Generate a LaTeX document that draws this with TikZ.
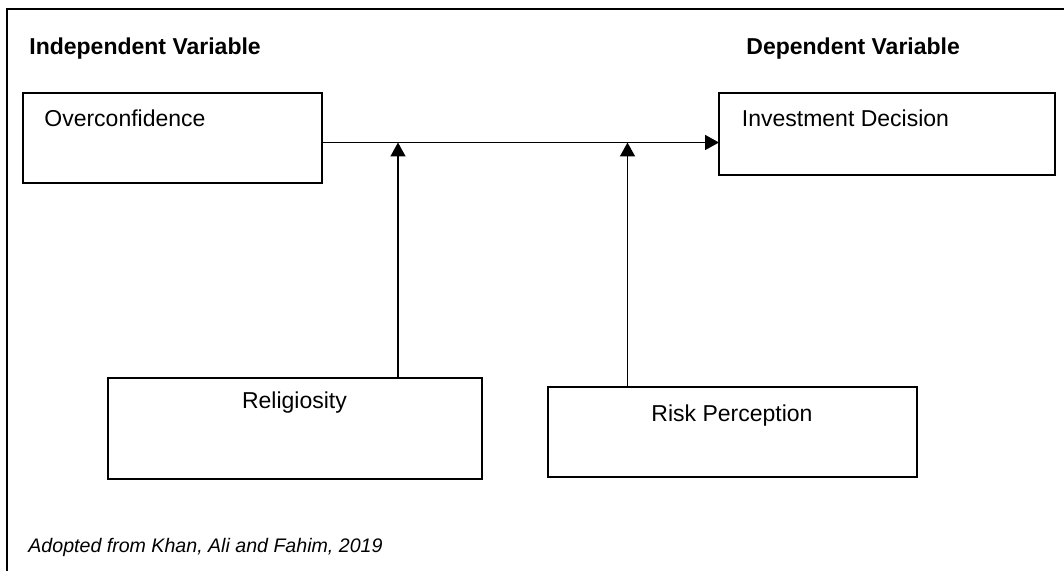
\documentclass[tikz,border=0pt]{standalone}
\usepackage{fontspec}
\setmainfont{Liberation Sans}
\usetikzlibrary{arrows.meta}

\begin{document}
\begin{tikzpicture}[x=0.5pt,y=-0.5pt,
                box/.style={draw,line width=0.8pt,outer sep=0pt,inner sep=0pt},
                txt/.style={font=\fontsize{11.5}{14}\selectfont,inner sep=0pt},
                head/.style={font=\fontsize{11.5}{14}\selectfont\bfseries,inner sep=0pt,anchor=base west},
                arr/.style={line width=0.8pt,-{Triangle[width=7.5pt,length=7pt]}}]
                \useasboundingbox (0,0) rectangle (1064,571);
                \draw[line width=0.75pt] (7,571) -- (7,9) -- (1064,9);
                % headings
                \node[head] (indep) at (29,55) {Independent Variable};
                \node[head] (dep) at (746,55) {Dependent Variable};
                % boxes
                \node[box,minimum width=149.5pt,minimum height=45pt] (over) at (172.5,138) {};
                \node[box,minimum width=168pt,minimum height=41pt] (inv) at (887,134) {};
                \node[box,minimum width=187pt,minimum height=50.5pt] (rel) at (295,428.5) {};
                \node[box,minimum width=184.5pt,minimum height=45pt] (risk) at (732.5,432) {};
                \node[txt,anchor=base west] (overtxt) at (44,126.5) {Overconfidence};
                \node[txt,anchor=base west] (invtxt) at (741.5,126.5) {Investment Decision};
                \node[txt,anchor=base] (reltxt) at (294.5,408.5) {Religiosity};
                \node[txt,anchor=base] (risktxt) at (732,421.5) {Risk Perception};
                % joins on the main line
                \coordinate (j1) at (398,142.5);
                \coordinate (j2) at (627.5,142.5);
                \draw[arr] (over.east |- j1) -- (inv.west |- j1);
                \draw[arr] (rel.north -| j1) -- (j1);
                \draw[arr] (risk.north -| j2) -- (j2);
                \node[inner sep=0pt,anchor=base west,font=\fontsize{9.8}{12}\selectfont\itshape] (src) at (28,552.5) {Adopted from Khan, Ali and Fahim, 2019};
            \end{tikzpicture}
\end{document}
